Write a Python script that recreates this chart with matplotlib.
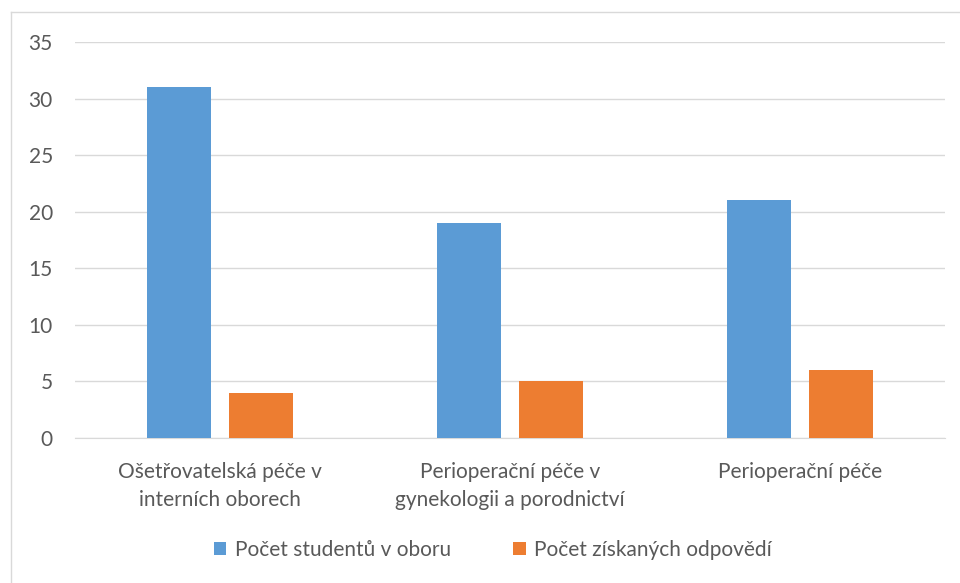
import matplotlib.pyplot as plt
import numpy as np

plt.rcParams['font.family'] = ['Lato', 'DejaVu Sans']

categories = ['Ošetřovatelská péče v\ninterních oborech',
              'Perioperační péče v\ngynekologii a porodnictví',
              'Perioperační péče']
students = [31, 19, 21]
responses = [4, 5, 6]
series_names = ['Počet studentů v oboru', 'Počet získaných odpovědí']

BLUE = '#5B9BD5'
ORANGE = '#ED7D31'
TEXT = '#595959'
GRID = '#D9D9D9'
FS = 15

fig = plt.figure(figsize=(9.6, 5.83), dpi=100)
ax = fig.add_axes([75 / 960, 1 - 438 / 583, 870 / 960, 396 / 583])

x = np.arange(len(categories))
w = 0.22
off = 0.141
ax.bar(x - off, students, w, color=BLUE, label=series_names[0], zorder=3)
ax.bar(x + off, responses, w, color=ORANGE, label=series_names[1], zorder=3)

ax.set_xlim(-0.5, len(categories) - 0.5)
ax.set_ylim(0, 35)
ax.set_yticks(np.arange(0, 36, 5))
ax.yaxis.grid(True, color=GRID, linewidth=1, zorder=0)
ax.set_xticks(x)
ax.set_xticklabels(categories, linespacing=1.5)
ax.tick_params(axis='both', length=0, labelsize=FS, labelcolor=TEXT)
ax.tick_params(axis='x', pad=17)
ax.tick_params(axis='y', pad=16)

for s in ['top', 'right', 'left']:
    ax.spines[s].set_visible(False)
ax.spines['bottom'].set_color(GRID)

# chart border (left and top edges visible)
fig.add_artist(plt.Line2D([11 / 960, 11 / 960], [0, 1 - 12 / 583],
                          transform=fig.transFigure, color=GRID, linewidth=1))
fig.add_artist(plt.Line2D([11 / 960, 1], [1 - 12 / 583, 1 - 12 / 583],
                          transform=fig.transFigure, color=GRID, linewidth=1))

fig.legend(loc='center', bbox_to_anchor=(493 / 960, 1 - 550 / 583), ncol=2,
           frameon=False, fontsize=FS, labelcolor=TEXT, handlelength=0.6,
           handleheight=0.6, handletextpad=0.4, columnspacing=3.0)

fig.savefig('out.png', dpi=100, facecolor='white')
